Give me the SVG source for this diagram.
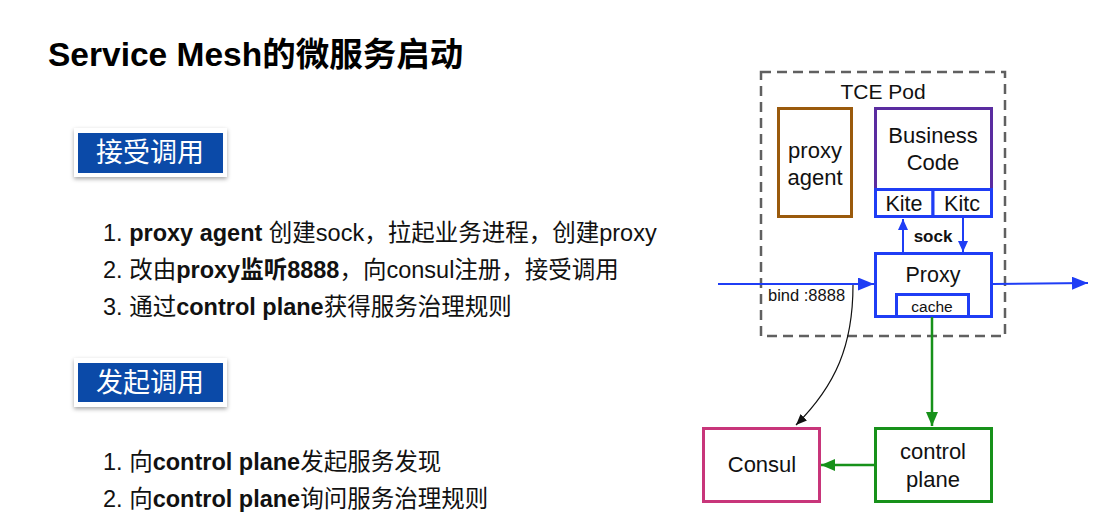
<svg xmlns="http://www.w3.org/2000/svg" width="1110" height="526" viewBox="0 0 1110 526">
  <style>
    .lat { font-family: "Liberation Sans", "Noto Sans CJK SC", sans-serif; }
    .txt { font-family: "Liberation Sans", "Noto Sans CJK SC", sans-serif; fill: #111; }
    .list { font-size: 23.5px; }
    .b { font-weight: bold; }
    .badge-text { font-family: "Noto Sans CJK SC", sans-serif; font-size: 27px; fill: #fff; text-anchor: middle; }
    .node-label { font-family: "Liberation Sans", sans-serif; font-size: 22px; fill: #111; text-anchor: middle; }
    .bluefill { stroke: #1f3df5; fill: #fff; stroke-width: 3; }
  </style>
  <defs>
    <filter id="cardShadow" x="-10%" y="-20%" width="120%" height="160%">
      <feDropShadow dx="0" dy="2" stdDeviation="2" flood-color="#000" flood-opacity="0.35"/>
    </filter>
    <marker id="arrBlueLg" viewBox="0 0 10 10" refX="10" refY="5" markerWidth="16" markerHeight="13" orient="auto" markerUnits="userSpaceOnUse" preserveAspectRatio="none">
      <path d="M0,0 L10,5 L0,10 z" fill="#1f3df5"/>
    </marker>
    <marker id="arrBlueSm" viewBox="0 0 10 10" refX="10" refY="5" markerWidth="11" markerHeight="10" orient="auto" markerUnits="userSpaceOnUse" preserveAspectRatio="none">
      <path d="M0,0 L10,5 L0,10 z" fill="#1f3df5"/>
    </marker>
    <marker id="arrGreen" viewBox="0 0 10 10" refX="10" refY="5" markerWidth="14" markerHeight="12" orient="auto" markerUnits="userSpaceOnUse" preserveAspectRatio="none">
      <path d="M0,0 L10,5 L0,10 z" fill="#17911a"/>
    </marker>
    <marker id="arrBlack" viewBox="0 0 10 10" refX="10" refY="5" markerWidth="11" markerHeight="9" orient="auto" markerUnits="userSpaceOnUse" preserveAspectRatio="none">
      <path d="M0,0 L10,5 L0,10 z" fill="#111"/>
    </marker>
  </defs>

  <rect width="1110" height="526" fill="#fff"/>

  <!-- Title -->
  <text x="48" y="66" class="lat b" style="font-size:33.5px" fill="#000">Service Mesh<tspan font-family="'Noto Sans CJK SC', sans-serif">的微服务启动</tspan></text>

  <!-- Section badge: accept calls -->
  <g id="badge-accept">
    <rect x="74" y="128" width="153" height="49" fill="#fff" filter="url(#cardShadow)"/>
    <rect x="78" y="133" width="145" height="40" fill="#0b4aa8"/>
    <text x="150" y="162" class="badge-text">接受调用</text>
  </g>

  <g id="list-accept" class="txt list">
    <text x="103" y="241">1. <tspan class="b">proxy agent</tspan> 创建sock，拉起业务进程，创建proxy</text>
    <text x="103" y="278">2. 改由<tspan class="b">proxy监听8888</tspan>，向consul注册，接受调用</text>
    <text x="103" y="315">3. 通过<tspan class="b">control plane</tspan>获得服务治理规则</text>
  </g>

  <!-- Section badge: initiate calls -->
  <g id="badge-initiate">
    <rect x="74" y="358" width="153" height="49" fill="#fff" filter="url(#cardShadow)"/>
    <rect x="78" y="363" width="145" height="39" fill="#0b4aa8"/>
    <text x="150" y="392" class="badge-text">发起调用</text>
  </g>

  <g id="list-initiate" class="txt list">
    <text x="103" y="470">1. 向<tspan class="b">control plane</tspan>发起服务发现</text>
    <text x="103" y="507">2. 向<tspan class="b">control plane</tspan>询问服务治理规则</text>
  </g>

  <!-- Pod boundary -->
  <g id="tce-pod">
    <rect x="761" y="72" width="244" height="264" fill="none" stroke="#606060" stroke-width="2.5" stroke-dasharray="10,6"/>
    <text x="883" y="99" class="node-label" style="font-size:21px">TCE Pod</text>
  </g>

  <g id="proxy-agent">
    <rect x="778.5" y="108.5" width="73" height="108" fill="#fff" stroke="#9a5a0c" stroke-width="3"/>
    <text x="815" y="158" class="node-label">proxy</text>
    <text x="815" y="185" class="node-label">agent</text>
  </g>

  <g id="business-code">
    <rect x="875.5" y="108.5" width="116" height="81" fill="#fff" stroke="#5a2ca0" stroke-width="3"/>
    <text x="933" y="143" class="node-label">Business</text>
    <text x="933" y="170" class="node-label">Code</text>
  </g>

  <g id="kite">
    <rect x="875.5" y="189.5" width="57.5" height="27" class="bluefill"/>
    <text x="904" y="211" class="node-label" style="font-size:21.5px">Kite</text>
  </g>
  <g id="kitc">
    <rect x="933" y="189.5" width="58.5" height="27" class="bluefill"/>
    <text x="962" y="211" class="node-label" style="font-size:21.5px">Kitc</text>
  </g>

  <g id="proxy">
    <rect x="875.5" y="253.5" width="116" height="63" class="bluefill"/>
    <text x="933" y="282" class="node-label" style="font-size:21.5px">Proxy</text>
    <rect x="896.5" y="294.5" width="72" height="22" class="bluefill"/>
    <text x="932" y="311.5" class="node-label" style="font-size:15.5px">cache</text>
  </g>

  <g id="consul">
    <rect x="703.5" y="428.5" width="116" height="73" fill="#fff" stroke="#c8357a" stroke-width="3"/>
    <text x="762" y="472" class="node-label">Consul</text>
  </g>

  <g id="control-plane">
    <rect x="875.5" y="428.5" width="116" height="73" fill="#fff" stroke="#17911a" stroke-width="3"/>
    <text x="933" y="459" class="node-label">control</text>
    <text x="933" y="487" class="node-label">plane</text>
  </g>

  <!-- Connectors -->
  <g id="connectors" fill="none">
    <path d="M718,284 L874,284" stroke="#1f3df5" stroke-width="2" marker-end="url(#arrBlueLg)"/>
    <path d="M993,284 L1088,283" stroke="#1f3df5" stroke-width="2" marker-end="url(#arrBlueLg)"/>
    <path d="M903,253 L903,219" stroke="#1f3df5" stroke-width="2" marker-end="url(#arrBlueSm)"/>
    <path d="M963,217 L963,252" stroke="#1f3df5" stroke-width="2" marker-end="url(#arrBlueSm)"/>
    <path d="M932,317 L932,426" stroke="#17911a" stroke-width="2.5" marker-end="url(#arrGreen)"/>
    <path d="M875,465 L821,465" stroke="#17911a" stroke-width="2.5" marker-end="url(#arrGreen)"/>
    <path d="M853,285 C853,345 836,385 796,425" stroke="#111" stroke-width="1.2" marker-end="url(#arrBlack)"/>
    <text x="768" y="301" class="lat" style="font-size:16.5px" fill="#111" stroke="none">bind :8888</text>
    <text x="933" y="242" class="lat b" style="font-size:17px" fill="#111" stroke="none" text-anchor="middle">sock</text>
  </g>
</svg>
